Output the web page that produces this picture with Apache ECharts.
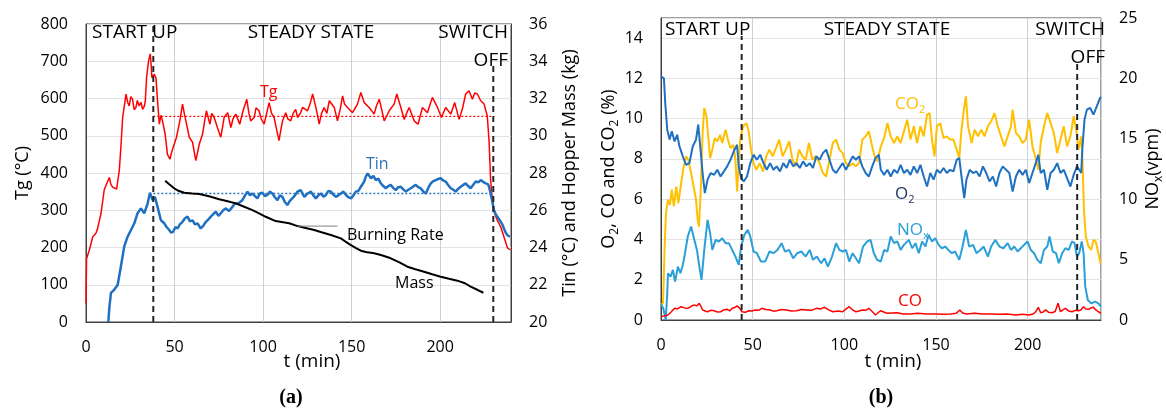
<!DOCTYPE html>
<html>
<head>
<meta charset="utf-8">
<script src="https://cdn.jsdelivr.net/npm/echarts@6/dist/echarts.min.js"></script>
<style>
html,body{margin:0;padding:0;background:#fff;}
#c{width:1166px;height:412px;}
</style>
</head>
<body>
<div id="c"></div>
<script>
// ---------- Panel (a) data ----------
const xTicksA = [0, 50, 100, 150, 200];
const tgLeftTicks = [0, 100, 200, 300, 400, 500, 600, 700, 800];
const massTicks = [20, 22, 24, 26, 28, 30, 32, 34, 36];

const tg = [[0,50],[0.3,170],[2,195],[3.8,229],[5.6,238],[6.5,250],[8.5,292],[10.3,355],[12,375],[13.2,388],[14,370],[15,362],[17.3,357],[18.8,407],[19.7,469],[20.7,549],[22.6,612],[23.5,590],[24.4,580],[25.3,605],[26.3,598],[27.2,570],[28.2,576],[29,595],[30,580],[31,590],[32,571],[33,580],[33.5,594],[34.2,656],[35.3,700],[36.3,720],[36.8,690],[37.2,656],[38.5,665],[39.5,656],[40.4,594],[41.4,531],[42.3,555],[43.2,540],[44.7,504],[46,450],[47.4,437],[48.3,455],[49.2,460],[51.1,496],[53,540],[54.5,585],[55.5,560],[56.4,540],[57.3,520],[58.3,496],[60.2,482],[61,460],[62,433],[63,455],[64,478],[65.8,504],[67,540],[68,567],[70,531],[71,560],[72.4,549],[74.2,522],[76.1,496],[77,520],[78,549],[80,562],[81.8,522],[83,545],[84.6,558],[86.8,531],[88.7,567],[90.8,598],[92,560],[93,540],[95,549],[96,575],[97.7,567],[99,545],[100.6,531],[102,560],[103.4,589],[104.8,560],[106.2,549],[107.5,520],[109,487],[110,515],[111,540],[112.8,562],[114,545],[115.6,540],[117,560],[118.4,571],[119.5,549],[121,560],[122.3,576],[125.1,567],[126.5,585],[128,612],[129.8,576],[131.7,531],[133,560],[134.5,576],[136,560],[137.4,594],[140.2,576],[142,540],[143.5,570],[144.9,607],[146,585],[147.7,576],[150.5,562],[153.3,585],[155.2,616],[157.1,589],[159.9,576],[162.7,558],[164,580],[165.6,598],[167,570],[168.4,540],[170,555],[171.2,567],[174,585],[175.5,612],[177.8,576],[179.7,544],[181,560],[182.5,576],[185.3,540],[187.5,531],[190,576],[192.8,562],[195.6,603],[198.5,576],[200.7,549],[203.1,576],[206,558],[208.2,589],[210.7,544],[212.5,571],[214.4,612],[216.3,621],[218.2,598],[219.5,615],[221,612],[222.9,594],[224.8,585],[226.6,553],[227.6,487],[228.5,380],[229.5,326],[230.8,291],[232.3,273],[234.2,255],[236,229],[238,199],[239.4,194]];

const tin = [[12.6,0],[13.2,40],[14.1,78],[16,87],[17.9,100],[19.7,149],[21.6,203],[23.5,229],[25.4,247],[27.3,265],[29.1,292],[31,305],[32.9,292],[34.8,318],[36.1,347],[37.6,327],[38.9,336],[40.4,309],[42.3,273],[44.2,265],[45.5,255],[47,247],[48,240],[49.2,242],[50.5,255],[51.7,251],[53,262],[54.5,269],[55.8,278],[57.3,283],[58.7,270],[60.2,273],[61.5,262],[63,265],[64.8,251],[66.2,258],[67.7,269],[69,275],[70.5,283],[72,290],[73.3,296],[74.8,285],[76.1,292],[77.5,300],[79,305],[80.8,298],[82.7,309],[84,318],[85.5,318],[87,322],[88.3,327],[89.8,340],[91.2,350],[92.6,340],[94,345],[95.4,338],[96.8,332],[98.2,345],[99.6,347],[101,338],[102.4,341],[103.9,350],[105.3,345],[106.7,335],[108.1,327],[109.5,340],[110.9,336],[112.3,322],[113.7,314],[115.1,325],[116.5,332],[118,340],[119.4,350],[121.2,354],[123.3,336],[125.2,345],[127,350],[128.4,340],[129.8,332],[131.2,340],[132.7,345],[134.1,336],[135.5,341],[136.9,352],[138.3,350],[139.7,342],[141.1,336],[142.5,340],[143.9,345],[145.4,350],[146.8,341],[148.2,335],[149.6,332],[151,340],[152.4,350],[153.8,352],[155.2,363],[157.1,377],[158,390],[159,399],[160.9,386],[162.3,392],[163.7,381],[165.1,385],[166.5,372],[167.9,365],[169.3,359],[170.7,365],[172.1,368],[173.5,360],[174.9,354],[176.3,362],[177.8,363],[179.2,356],[180.6,350],[182,355],[183.4,359],[184.8,364],[186.2,368],[187.6,362],[189,359],[190.5,350],[191.9,345],[193.3,360],[194.7,372],[196.1,378],[197.5,381],[198.9,384],[200.3,386],[201.7,380],[203.1,377],[204.5,368],[206,359],[207.4,355],[208.8,350],[210.2,358],[211.6,363],[213,368],[214.4,372],[215.8,365],[217.2,359],[218.6,368],[220.1,377],[221.5,375],[222.9,381],[224.3,376],[225.7,372],[227,370],[227.6,363],[228.9,336],[230.4,300],[231.3,290],[232.3,283],[233.2,278],[234.2,269],[235.1,262],[236,251],[237,240],[238,233],[239.4,229]];

const mass = [[44.7,27.59],[47,27.4],[49.8,27.18],[52.5,27.03],[55.5,26.94],[60,26.9],[64,26.87],[70,26.74],[75.2,26.59],[80,26.48],[84.6,26.37],[89,26.2],[94,26.01],[98,25.82],[101.5,25.65],[107.1,25.42],[114.7,25.30],[119.5,25.15],[124,25.05],[128.9,24.94],[133,24.82],[138.3,24.67],[143.9,24.49],[146.5,24.32],[149.6,24.13],[152.5,23.97],[155.2,23.83],[158,23.76],[162.7,23.69],[167,23.58],[172.1,23.42],[177,23.2],[181.5,22.97],[186,22.83],[190.9,22.70],[195.5,22.56],[200.3,22.43],[205,22.32],[209.7,22.22],[214,22.08],[217.2,21.90],[221,21.73],[224.4,21.57]];

const burningRateLine = [[119.5,25.15],[142,25.15]];
const tgMean = [[38,552],[230,552]];
const tinMean = [[38,345],[230,345]];
const phaseA = [[38,0],[38,800]];
const phaseA2 = [[230,0],[230,690]];

// ---------- Panel (b) data ----------
const xTicksB = [0, 50, 100, 150, 200];
const gasTicks = [0, 2, 4, 6, 8, 10, 12, 14];
const noxTicks = [0, 5, 10, 15, 20, 25];

const o2 = [[0,12.1],[0.5,12.1],[1.6,12.0],[2.3,10.8],[3.4,9.45],[4.7,8.96],[5.9,9.37],[7.4,8.87],[8.8,9.2],[10.1,8.62],[11.9,8.13],[13.7,7.71],[15.5,7.79],[17.3,8.62],[19.1,8.96],[20.3,9.7],[21.4,8.62],[22.7,7.3],[23.9,6.3],[25.4,6.97],[27.1,7.3],[29,7.21],[30.7,7.46],[32.5,7.13],[34.3,7.38],[36.1,7.63],[37.9,7.96],[40.1,8.46],[41.5,8.7],[42.4,7.63],[43.7,7.05],[45.1,6.88],[46.9,7.13],[48.7,7.79],[50.5,8.21],[52.3,7.96],[54.1,8.21],[55.9,7.79],[57.7,7.46],[59.5,7.79],[61.3,7.46],[63.1,7.63],[64.9,7.38],[66.7,7.79],[68.5,7.55],[70.3,7.96],[72.1,7.63],[73.9,7.79],[75.7,7.55],[77.5,7.88],[79.3,7.63],[81.1,7.79],[82.9,7.55],[84.7,8.13],[86.5,7.96],[88.3,8.29],[90.1,8.46],[91.9,7.96],[93.7,7.46],[95.5,7.3],[97.3,7.55],[99.1,7.79],[100.9,7.46],[102.7,7.79],[104.5,8.13],[106.3,7.96],[108,8.13],[109.8,7.63],[111.6,7.3],[113.4,7.13],[115.2,7.63],[117,8.04],[118.8,8.21],[119.9,7.46],[121.7,7.21],[123.5,7.46],[125.3,7.13],[127.1,7.46],[128.9,7.3],[130.7,7.71],[132.5,7.3],[134.3,7.46],[136.1,7.21],[137.9,7.63],[139.7,7.3],[141.5,7.71],[143.3,7.13],[145.1,6.63],[146.9,7.3],[148.7,6.97],[150.5,7.46],[152.3,7.3],[154.1,7.55],[155.9,7.3],[157.7,7.46],[159.5,7.38],[161.3,7.96],[162.7,8.04],[163.9,7.13],[165.4,6.05],[166.6,6.97],[168.4,7.46],[170.2,7.3],[172.1,7.38],[173.8,7.13],[175.6,7.63],[177.4,7.3],[179.2,6.88],[181,7.13],[182.8,6.63],[184.6,7.3],[186.4,7.63],[188.2,7.46],[190,7.3],[191.8,6.38],[193.6,7.13],[195.4,7.46],[197.2,7.21],[199,7.46],[200.8,6.8],[202.6,7.3],[204.4,7.79],[205.8,8.21],[207.1,7.3],[208.9,7.46],[210.7,6.47],[212.5,7.3],[214.3,7.46],[216.1,7.79],[217.9,7.3],[219.7,7.46],[221.5,7.05],[223.3,6.63],[225.1,7.21],[226.9,7.63],[228.1,7.46],[229.2,7.3],[229.9,8.62],[231,9.95],[232.3,10.45],[234.1,10.53],[235.9,10.2],[237.7,10.61],[239.5,11.03],[240,11.08]];

const co2 = [[0,0.75],[1.1,0.83],[2,3.65],[2.7,5.3],[3.8,5.97],[4.9,5.72],[5.9,6.47],[7,5.64],[8.3,6.63],[9.5,5.8],[11,6.8],[12.4,7.63],[13.7,8.13],[14.9,7.96],[16.4,7.3],[17.8,6.63],[19.1,5.97],[20,4.98],[20.7,4.64],[21.8,6.63],[22.7,9.29],[23.6,10.53],[24.8,10.12],[25.9,8.96],[26.8,8.04],[28,8.46],[29.3,9.04],[30.7,8.87],[32.2,9.2],[33.4,8.79],[35.2,9.45],[36.5,8.96],[37.9,8.54],[39.4,8.7],[40.6,7.96],[41.5,6.38],[42.4,7.79],[43.3,9.04],[44.8,9.62],[46.6,9.78],[47.8,9.37],[49.1,8.46],[50.5,7.79],[52,7.46],[53.8,7.79],[55.6,7.38],[57.4,8.13],[59.1,8.46],[60.9,8.13],[62.7,8.54],[64.5,8.96],[66.3,8.13],[68.1,8.46],[69.9,8.87],[71.7,7.96],[73.5,7.63],[75.3,8.46],[77.1,8.13],[78.9,7.96],[80.7,8.79],[82.5,7.96],[84.3,8.13],[86.5,7.79],[88.3,7.3],[90.1,7.13],[91.9,7.96],[93.7,8.79],[95.5,8.96],[97.3,8.46],[99.1,8.29],[100.9,7.79],[102.7,7.63],[104.5,7.79],[106.3,7.63],[108,7.79],[109.8,8.96],[111.6,9.12],[113.4,9.37],[115.2,8.62],[117,7.96],[118.1,7.9],[119.9,8.62],[121.7,9.04],[123.5,9.78],[125.3,9.12],[127.1,8.79],[128.9,9.12],[130.7,8.79],[132.5,9.37],[134.3,9.95],[136.1,8.96],[137.9,9.62],[139.7,8.79],[141.5,9.62],[143.3,9.12],[145.1,10.2],[146.5,10.28],[147.8,8.96],[149.2,8.13],[150.5,9.62],[152.3,9.78],[154.1,9.04],[155.9,9.12],[157.7,8.96],[159.5,8.96],[161.3,8.46],[162.7,8.04],[163.9,9.45],[165.2,10.45],[166.3,11.11],[167.5,9.62],[169.4,8.79],[171.1,9.45],[172.9,9.12],[174.7,9.45],[176.5,9.12],[178.3,9.62],[180.1,9.87],[181.9,10.28],[183.7,9.62],[185.5,9.12],[187.3,8.62],[189.1,9.12],[190.9,9.62],[191.8,10.45],[193.6,9.29],[195.4,9.12],[197.2,8.79],[199,8.96],[200.8,9.95],[202.6,8.62],[204.1,8.13],[205.8,7.46],[207.1,8.79],[208.9,9.62],[210.7,10.28],[212.5,9.78],[214.3,9.29],[216.1,8.29],[217.9,8.96],[219.7,9.62],[221.5,8.62],[223.3,9.12],[225.1,10.12],[226.5,9.45],[227.7,8.46],[229.2,9.12],[229.9,7.96],[230.7,5.47],[231.7,4.15],[233.2,3.65],[234.6,3.48],[235.9,3.98],[237.1,3.9],[238.6,3.32],[239.7,2.82]];

const nox = [[0,1.3],[1.2,1.0],[2.6,0],[3.4,2.2],[3.8,3.87],[5.2,3.59],[6.5,4.15],[7.7,3.18],[9.2,4.42],[10.6,3.87],[11.9,4.56],[13.1,5.53],[14.6,6.91],[16.4,7.74],[18.2,6.63],[19.6,5.8],[20.9,4.42],[22.1,3.32],[23.6,5.8],[25.4,8.29],[26.8,7.19],[28,5.8],[29.8,6.63],[31.6,6.5],[33.4,6.77],[35.2,6.36],[37,6.36],[38.8,5.8],[40.6,5.25],[42.4,4.56],[43.7,6.08],[45.5,7.05],[47.3,7.46],[48.7,6.91],[50.5,5.67],[52.3,5.53],[54.5,4.84],[56.8,4.84],[59.2,5.67],[61.3,5.53],[63.5,5.8],[65.8,6.36],[67.6,5.67],[69.9,5.8],[72.1,5.11],[74.3,5.53],[76.6,5.67],[78.9,5.25],[81.1,5.8],[82.9,4.98],[85,5.25],[87.4,4.7],[89.2,5.11],[91,4.42],[93.3,5.25],[95.5,6.36],[97.3,5.8],[99.1,5.67],[100.9,5.8],[102.7,4.84],[104.5,5.53],[106.3,5.11],[108,4.7],[110.2,6.08],[112.5,6.5],[114.3,6.63],[116.1,5.53],[117.9,4.98],[119.9,4.84],[121.7,5.8],[123.5,5.67],[125.3,6.91],[127.1,6.36],[128.9,6.5],[130.7,5.8],[132.5,6.22],[135.2,6.63],[137,5.94],[138.8,6.36],[140.6,5.53],[142.4,6.5],[144.2,6.08],[146,7.05],[147.8,6.5],[149.6,6.77],[151.4,6.22],[153.2,5.94],[155,6.08],[156.8,5.8],[158.6,5.53],[160.4,5.67],[162.7,4.98],[164.5,6.08],[166.3,7.46],[168.1,6.08],[170.2,6.22],[172.1,5.53],[174.2,5.8],[176,6.08],[178.3,5.25],[180.1,6.08],[182.3,6.63],[184.6,6.08],[186.8,5.94],[189.1,6.36],[190.9,5.8],[192.7,6.08],[194.5,5.67],[197.2,6.08],[199.9,6.5],[201.7,5.8],[203.5,5.53],[205.3,4.98],[207.1,4.7],[208.9,5.8],[210.7,6.08],[211.9,6.91],[213.7,5.67],[215.5,5.53],[217,4.7],[218.8,5.53],[220.6,5.94],[222.4,5.8],[224.2,6.5],[225.6,6.36],[226.9,5.25],[228.1,5.53],[229.5,6.5],[230.5,5.53],[231.4,2.76],[232.8,1.66],[234.6,1.38],[236.8,1.52],[238.6,1.38],[240,1.1]];

const co = [[0,0.17],[1.5,0.2],[3.8,0.25],[5.5,0.4],[7.4,0.58],[9,0.55],[11,0.66],[12.8,0.6],[14.6,0.58],[16.4,0.68],[18.2,0.75],[19.5,0.7],[20.9,0.83],[21.8,0.8],[22.7,0.5],[24,0.45],[25.4,0.41],[27,0.48],[29,0.46],[30.8,0.4],[32.5,0.41],[34.3,0.5],[36.1,0.53],[37.5,0.45],[38.8,0.58],[40.2,0.62],[41.5,0.7],[42.8,0.6],[44.2,0.41],[46,0.38],[47.8,0.46],[49.6,0.45],[51.4,0.5],[53.2,0.48],[55,0.58],[57.2,0.52],[59.5,0.5],[61.3,0.44],[63.1,0.46],[65.8,0.52],[68.5,0.5],[71.2,0.45],[73.9,0.46],[76.6,0.52],[79.3,0.5],[82,0.48],[84.7,0.58],[87,0.55],[89.2,0.63],[91.5,0.5],[93.7,0.41],[96.4,0.45],[99.1,0.41],[101,0.55],[102.7,0.66],[104.5,0.5],[106.3,0.41],[108,0.45],[109.8,0.5],[111.6,0.48],[113.4,0.58],[115.2,0.42],[117,0.25],[119.7,0.46],[121.5,0.4],[123.5,0.33],[126,0.35],[128.9,0.36],[132,0.3],[136.1,0.3],[140,0.33],[145.1,0.3],[150,0.3],[154.1,0.28],[158,0.3],[161,0.33],[163,0.5],[164.5,0.35],[166.6,0.3],[171,0.33],[175.6,0.3],[180,0.3],[184.6,0.28],[189,0.3],[193.6,0.25],[197,0.28],[200.8,0.25],[203,0.3],[204.4,0.41],[205.8,0.63],[207.1,0.36],[208.5,0.4],[209.8,0.5],[211.5,0.38],[213.4,0.36],[215,0.42],[216.6,0.83],[217.9,0.41],[219.2,0.5],[220.6,0.58],[222.4,0.45],[224.2,0.41],[226,0.48],[227.7,0.46],[229,0.5],[230.5,0.66],[231.8,0.55],[233.2,0.53],[234.5,0.6],[235.9,0.63],[237.2,0.5],[238.6,0.41],[240,0.33]];

const phaseB = [[44,0],[44,14.1]];
const phaseB2 = [[227,0],[227,12.9]];

// ---------- chart ----------
const FONT = '"Open Sans", "Noto Sans", sans-serif';
const chart = echarts.init(document.getElementById('c'), null, {renderer: 'canvas'});

function xAx(grid, ticks) {
  return {
    type: 'value', gridIndex: grid, min: 0, max: 240, interval: 50,
    axisLine: {show: true, lineStyle: {color: '#404040', width: 1}},
    axisTick: {show: false},
    axisLabel: {color: '#000', fontSize: 16, fontFamily: FONT, margin: 17, showMaxLabel: false,
      formatter: v => ticks.indexOf(v) >= 0 ? String(v) : ''},
    splitLine: {show: true, lineStyle: {color: '#cfcfcf', width: 1}}
  };
}
function yAx(grid, min, max, step, pos, split, name, nameGap, lineColor) {
  return {
    type: 'value', gridIndex: grid, min: min, max: max, interval: step, position: pos,
    axisLine: {show: true, lineStyle: {color: lineColor || '#404040', width: 1}},
    axisTick: {show: false},
    axisLabel: {color: '#000', fontSize: 16, fontFamily: FONT, margin: 18, showMaxLabel: (max % step === 0)},
    splitLine: {show: split, lineStyle: {color: '#e3e3e3', width: 1}},
    name: name, nameLocation: 'middle', nameRotate: 90, nameGap: nameGap,
    nameTextStyle: {color: '#000', fontSize: 18, fontFamily: FONT, rich: {
      a: {fontSize: 18, fontFamily: FONT, color: '#000', lineHeight: 24},
      s: {fontSize: 12, fontFamily: FONT, color: '#000', lineHeight: 12, verticalAlign: 'bottom'}
    }}
  };
}
function ln(data, xi, yi, color, width, type, z) {
  return {type: 'line', data: data, xAxisIndex: xi, yAxisIndex: yi, showSymbol: false, symbol: 'none',
    silent: true, z: z || 2, lineStyle: {color: color, width: width, type: type || 'solid'}};
}

function txt(x, y, text, color, size, align) {
  return {type: 'text', x: x, y: y, z: 100, silent: true,
    style: {text: text, fill: color || '#000', font: (size || 19) + 'px ' + FONT,
      align: align || 'left', verticalAlign: 'middle'}};
}
function richTxt(x, y, text, color, size) {
  return {type: 'text', x: x, y: y, z: 100, silent: true,
    style: {text: text, fill: color, align: 'left', verticalAlign: 'middle',
      rich: {
        a: {fontSize: size, fontFamily: FONT, fill: color, color: color, lineHeight: size + 6},
        s: {fontSize: Math.round(size * 0.65), fontFamily: FONT, fill: color, color: color, lineHeight: 10, verticalAlign: 'bottom'}
      }}};
}

const option = {
  animation: false,
  backgroundColor: '#fff',
  grid: [
    {left: 86, top: 24, width: 425, height: 298, show: true, borderColor: '#404040', borderWidth: 1, backgroundColor: 'transparent'},
    {left: 661, top: 18, width: 446, height: 302, show: true, borderColor: '#404040', borderWidth: 1, backgroundColor: 'transparent'}
  ],
  xAxis: [xAx(0, xTicksA), xAx(1, xTicksB)],
  yAxis: [
    yAx(0, 0, 800, 100, 'left', true, 'Tg (°C)', 54),
    yAx(0, 20, 36, 2, 'right', false, 'Tin (°C) and Hopper Mass (kg)', 50),
    yAx(1, 0, 15, 2, 'left', true, '{a|O}{s|2}{a|, CO and CO}{s|2}{a| (%)}', 39),
    yAx(1, 0, 25, 5, 'right', false, '{a|NO}{s|x}{a|(vpm)}', 40, '#cfcfcf')
  ],
  series: [
    ln(tg, 0, 0, '#ff0000', 1.5),
    ln(tgMean, 0, 0, '#ff0000', 1.2, [2, 2]),
    ln(tin, 0, 0, '#1f70c1', 2.5),
    ln(tinMean, 0, 0, '#2e75b6', 1.5, [2, 2]),
    ln(mass, 0, 1, '#000000', 2),
    ln(burningRateLine, 0, 1, '#808080', 1),
    ln(phaseA, 0, 0, '#262626', 2, [6, 4], 5),
    ln(phaseA2, 0, 0, '#262626', 2, [6, 4], 5),
    ln(co2, 1, 2, '#ffc000', 2),
    ln(o2, 1, 2, '#1f70c1', 2),
    ln(nox, 1, 3, '#2a9fd8', 2),
    ln(co, 1, 2, '#ff0000', 1.5),
    ln(phaseB, 1, 2, '#262626', 2, [6, 4], 5),
    ln(phaseB2, 1, 2, '#262626', 2, [6, 4], 5)
  ],
  graphic: [
    txt(92, 33, 'START UP'),
    txt(311, 33, 'STEADY STATE', '#000', 19, 'center'),
    txt(508, 33, 'SWITCH', '#000', 19, 'right'),
    txt(508, 61, 'OFF', '#000', 19, 'right'),
    txt(260, 92, 'Tg', '#ff0000', 16),
    txt(366, 164, 'Tin', '#2e75b6', 16),
    txt(347, 235, 'Burning Rate', '#000', 16),
    txt(395, 283, 'Mass', '#000', 16),
    txt(312, 362, 't (min)', '#000', 19, 'center'),
    {type: 'text', x: 291, y: 398, z: 100, silent: true, style: {text: '(a)', fill: '#000', font: 'bold 20px "Liberation Serif", serif', align: 'center', verticalAlign: 'middle'}},

    txt(665, 30, 'START UP'),
    txt(887, 30, 'STEADY STATE', '#000', 19, 'center'),
    txt(1105, 30, 'SWITCH', '#000', 19, 'right'),
    txt(1105, 58, 'OFF', '#000', 19, 'right'),
    richTxt(895, 104, '{a|CO}{s|2}', '#ffc000', 17),
    richTxt(895, 194, '{a|O}{s|2}', '#1f3864', 17),
    richTxt(897, 230, '{a|NO}{s|x}', '#2a9fd8', 17),
    txt(898, 301, 'CO', '#ff0000', 17),
    txt(893, 362, 't (min)', '#000', 19, 'center'),
    {type: 'text', x: 881, y: 398, z: 100, silent: true, style: {text: '(b)', fill: '#000', font: 'bold 20px "Liberation Serif", serif', align: 'center', verticalAlign: 'middle'}}
  ]
};
chart.setOption(option);
</script>
</body>
</html>
